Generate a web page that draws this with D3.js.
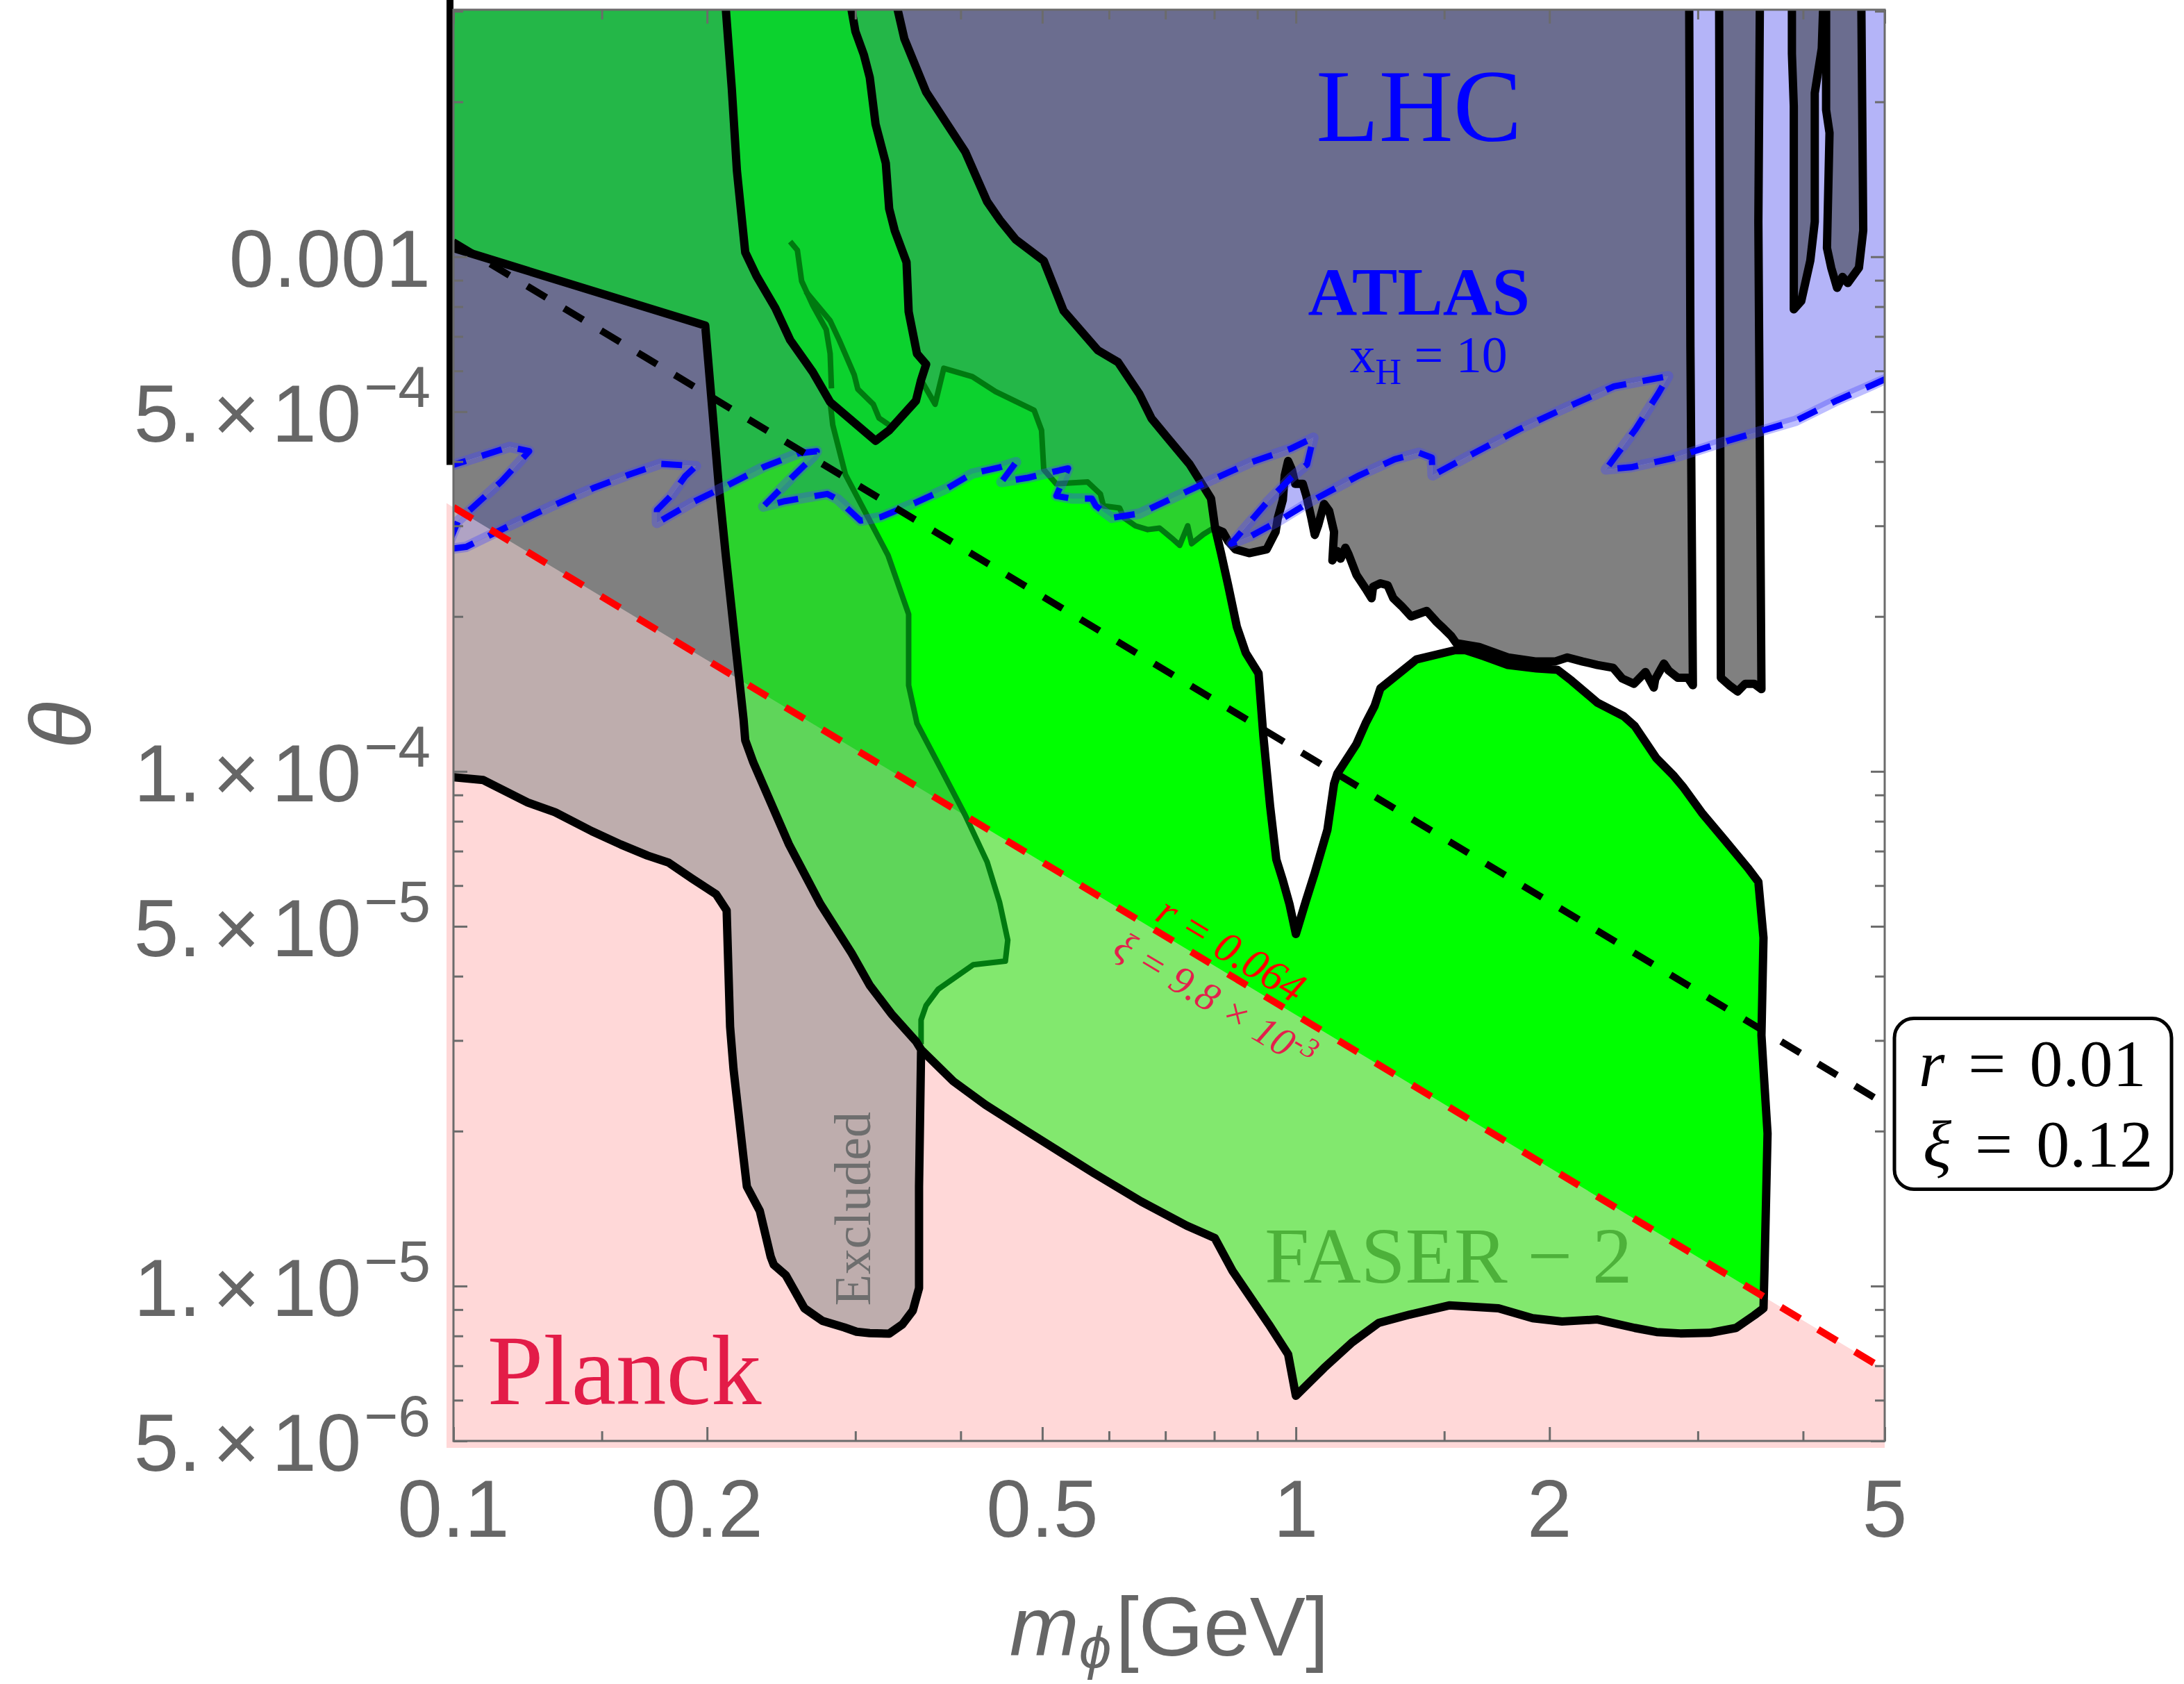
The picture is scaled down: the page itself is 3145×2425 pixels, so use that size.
<!DOCTYPE html>
<html>
<head>
<meta charset="utf-8">
<script src="https://cdn.jsdelivr.net/npm/d3@7"></script>
<style>
  html, body { margin: 0; padding: 0; background: #ffffff; }
  svg { display: block; }
</style>
</head>
<body>
<svg id="chart" width="3145" height="2425"></svg>
<script>
// ---------------------------------------------------------------
// Axis ticks
// ---------------------------------------------------------------
const xMajorTicks = [0.1, 0.2, 0.5, 1, 2, 5];
const xTickLabels = ["0.1", "0.2", "0.5", "1", "2", "5"];
const xMinorTicks = [0.15, 0.3, 0.4, 0.6, 0.7, 0.8, 0.9, 1.5, 3, 4];
const yMajorTicks = [5e-6, 1e-5, 5e-5, 1e-4, 5e-4, 1e-3];
const yTickLabels = ["5.|\u00d7|10^\u22126", "1.|\u00d7|10^\u22125", "5.|\u00d7|10^\u22125",
                     "1.|\u00d7|10^\u22124", "5.|\u00d7|10^\u22124", "0.001"];
const yMinorTicks = [6e-6, 7e-6, 8e-6, 9e-6, 2e-5, 3e-5, 4e-5, 6e-5, 7e-5, 8e-5, 9e-5,
                     2e-4, 3e-4, 4e-4, 6e-4, 7e-4, 8e-4, 9e-4, 2e-3, 3e-3];

// ---------------------------------------------------------------
// Reference lines  [m_phi (GeV), theta]
// ---------------------------------------------------------------
const planckLine = [[0.1, 3.26e-4], [5, 6.88e-6]];   // r = 0.064, xi = 9.8e-3
const lineR001   = [[0.1, 1.07e-3], [5, 2.26e-5]];   // r = 0.01,  xi = 0.12

// ---------------------------------------------------------------
// Excluded region (grey)
// ---------------------------------------------------------------
const uLeftArm = [[0.210, 3.2e-3], [0.214, 2.12e-3], [0.217, 1.47e-3], [0.222, 1.02e-3],
  [0.229, 9.17e-4], [0.241, 7.95e-4], [0.251, 6.89e-4], [0.267, 5.97e-4], [0.280, 5.22e-4]];
const uBottom = [[0.317, 4.39e-4], [0.329, 4.60e-4], [0.354, 5.25e-4]];
const uRightArm = [[0.359, 5.76e-4], [0.364, 6.18e-4], [0.355, 6.48e-4], [0.347, 7.82e-4],
  [0.345, 9.76e-4], [0.334, 1.125e-3], [0.329, 1.24e-3], [0.326, 1.52e-3], [0.317, 1.81e-3],
  [0.312, 2.23e-3], [0.307, 2.47e-3], [0.300, 2.74e-3], [0.295, 3.2e-3]];

// boundary running underneath the FASER-2 fill, left part
const exclHiddenLeft = [[0.280, 5.22e-4], [0.282, 4.71e-4], [0.292, 3.77e-4], [0.328, 2.63e-4],
  [0.347, 2.02e-4], [0.347, 1.47e-4], [0.355, 1.24e-4], [0.378, 1.02e-4], [0.405, 8.22e-5],
  [0.430, 6.67e-5], [0.445, 5.56e-5], [0.455, 4.70e-5], [0.452, 4.28e-5], [0.414, 4.21e-5],
  [0.376, 3.77e-5], [0.364, 3.51e-5], [0.359, 3.29e-5], [0.359, 2.95e-5]];

// lower tail and bottom edge of the excluded band
const exclTail = [[0.359, 2.86e-5], [0.357, 1.56e-5], [0.357, 9.91e-6], [0.351, 8.96e-6],
  [0.341, 8.42e-6], [0.329, 8.08e-6], [0.312, 8.10e-6], [0.301, 8.15e-6], [0.291, 8.31e-6],
  [0.274, 8.56e-6], [0.261, 9.05e-6], [0.253, 9.91e-6], [0.248, 1.05e-5], [0.240, 1.10e-5],
  [0.238, 1.14e-5], [0.231, 1.40e-5], [0.223, 1.56e-5], [0.221, 1.77e-5], [0.215, 2.64e-5],
  [0.213, 3.19e-5], [0.211, 5.37e-5], [0.205, 5.77e-5], [0.192, 6.19e-5], [0.180, 6.65e-5],
  [0.170, 6.86e-5], [0.158, 7.21e-5], [0.146, 7.65e-5], [0.132, 8.33e-5], [0.1225, 8.70e-5],
  [0.1085, 9.62e-5], [0.1, 9.74e-5]];

// right edge and jagged lower edge of the upper excluded block
const exclEdgeRight = [[2.93, 3.2e-3], [2.94, 6.68e-4], [2.96, 1.47e-4], [2.92, 1.52e-4],
  [2.84, 1.52e-4], [2.77, 1.57e-4], [2.735, 1.62e-4], [2.67, 1.51e-4], [2.66, 1.455e-4],
  [2.60, 1.56e-4], [2.52, 1.48e-4], [2.44, 1.515e-4], [2.38, 1.59e-4], [2.28, 1.61e-4],
  [2.19, 1.635e-4], [2.10, 1.665e-4], [2.03, 1.635e-4], [1.93, 1.635e-4], [1.785, 1.665e-4],
  [1.65, 1.745e-4], [1.55, 1.775e-4], [1.53, 1.83e-4], [1.50, 1.89e-4], [1.47, 1.95e-4],
  [1.43, 2.05e-4], [1.37, 2.0e-4], [1.335, 2.095e-4], [1.305, 2.17e-4], [1.285, 2.30e-4],
  [1.26, 2.32e-4], [1.235, 2.285e-4], [1.23, 2.17e-4], [1.21, 2.265e-4], [1.18, 2.41e-4],
  [1.155, 2.64e-4], [1.145, 2.72e-4], [1.13, 2.59e-4], [1.12, 2.68e-4], [1.105, 2.57e-4],
  [1.11, 2.92e-4], [1.095, 3.21e-4], [1.08, 3.31e-4], [1.063, 3.01e-4], [1.053, 2.88e-4],
  [1.043, 3.11e-4], [1.029, 3.43e-4], [1.019, 3.62e-4], [0.998, 3.62e-4], [0.989, 3.86e-4],
  [0.979, 4.01e-4], [0.970, 3.76e-4], [0.965, 3.37e-4], [0.952, 3.11e-4], [0.946, 2.92e-4],
  [0.923, 2.70e-4], [0.880, 2.655e-4], [0.848, 2.70e-4], [0.831, 2.80e-4], [0.819, 2.92e-4],
  [0.799, 2.97e-4]];

// boundary running underneath the FASER-2 fill, right part
const exclHiddenRight = [[0.799, 2.97e-4], [0.793, 2.95e-4], [0.777, 2.89e-4], [0.752, 2.77e-4],
  [0.744, 3.0e-4], [0.728, 2.75e-4], [0.712, 2.84e-4], [0.689, 2.97e-4], [0.667, 2.95e-4],
  [0.645, 3.0e-4], [0.625, 3.11e-4], [0.6175, 3.25e-4], [0.591, 3.28e-4], [0.586, 3.46e-4],
  [0.566, 3.65e-4], [0.5195, 3.62e-4], [0.502, 3.86e-4], [0.499, 4.6e-4], [0.489, 5.03e-4],
  [0.440, 5.47e-4], [0.413, 5.85e-4], [0.382, 6.07e-4], [0.373, 5.17e-4], [0.359, 5.76e-4]];

const tongueA = [[0.251, 1.07e-3], [0.256, 1.03e-3], [0.259, 8.97e-4], [0.267, 8.05e-4],
  [0.277, 7.22e-4], [0.280, 6.48e-4], [0.281, 5.55e-4]];
const tongueB = [[0.262, 8.56e-4], [0.280, 7.51e-4], [0.287, 6.89e-4], [0.299, 5.90e-4],
  [0.302, 5.53e-4], [0.315, 5.17e-4], [0.320, 4.86e-4], [0.329, 4.71e-4]];

// narrow excluded strips near the right edge
const stripA = [[3.18, 3.2e-3], [3.195, 1.52e-4], [3.27, 1.47e-4], [3.345, 1.43e-4],
  [3.415, 1.48e-4], [3.50, 1.48e-4], [3.57, 1.445e-4], [3.54, 1.17e-3], [3.555, 3.2e-3]];
const stripB = [[3.88, 3.2e-3], [3.88, 2.48e-3], [3.90, 1.96e-3], [3.90, 7.90e-4],
  [3.98, 8.20e-4], [4.08, 9.83e-4], [4.13, 1.17e-3], [4.13, 2.08e-3], [4.21, 2.54e-3],
  [4.23, 3.2e-3]];
const stripC = [[4.26, 3.2e-3], [4.26, 1.93e-3], [4.30, 1.74e-3], [4.27, 1.04e-3],
  [4.32, 9.52e-4], [4.39, 8.70e-4], [4.455, 9.14e-4], [4.52, 8.89e-4], [4.66, 9.52e-4],
  [4.715, 1.125e-3], [4.69, 3.2e-3]];

// ---------------------------------------------------------------
// ATLAS (x_H = 10) lower boundary of the LHC region
// ---------------------------------------------------------------
const atlasBoundary = [[0.098, 3.90e-4], [0.1166, 4.27e-4], [0.123, 4.19e-4], [0.114, 3.66e-4],
  [0.1013, 3.07e-4], [0.098, 2.70e-4], [0.1035, 2.73e-4], [0.1155, 2.98e-4], [0.1305, 3.27e-4],
  [0.1464, 3.55e-4], [0.1613, 3.77e-4], [0.176, 3.96e-4], [0.194, 3.92e-4], [0.1885, 3.75e-4],
  [0.1815, 3.44e-4], [0.1744, 3.22e-4], [0.1744, 3.04e-4], [0.192, 3.33e-4], [0.2117, 3.60e-4],
  [0.2332, 3.90e-4], [0.2569, 4.15e-4], [0.270, 4.19e-4], [0.2674, 4.09e-4], [0.252, 3.72e-4],
  [0.2332, 3.27e-4], [0.2473, 3.35e-4], [0.2777, 3.46e-4], [0.2857, 3.38e-4], [0.3042, 3.07e-4],
  [0.3214, 3.12e-4], [0.354, 3.33e-4], [0.3856, 3.55e-4], [0.4129, 3.79e-4], [0.4454, 3.90e-4],
  [0.4654, 3.99e-4], [0.4471, 3.65e-4], [0.4806, 3.72e-4], [0.5366, 3.88e-4], [0.5195, 3.43e-4],
  [0.5417, 3.39e-4], [0.5724, 3.39e-4], [0.5789, 3.28e-4], [0.6047, 3.11e-4], [0.6523, 3.17e-4],
  [0.7119, 3.39e-4], [0.7933, 3.68e-4], [0.8857, 3.99e-4], [0.9868, 4.24e-4], [1.049, 4.45e-4],
  [1.031, 3.95e-4], [0.9868, 3.72e-4], [0.925, 3.34e-4], [0.838, 2.77e-4], [0.8857, 2.87e-4],
  [0.952, 3.06e-4], [1.039, 3.34e-4], [1.189, 3.76e-4], [1.31, 4.04e-4], [1.40, 4.16e-4],
  [1.45, 4.07e-4], [1.453, 3.76e-4], [1.59, 4.07e-4], [1.84, 4.62e-4], [2.085, 5.08e-4],
  [2.386, 5.60e-4], [2.766, 5.86e-4], [2.694, 5.43e-4], [2.53, 4.62e-4], [2.333, 3.86e-4],
  [2.50, 3.90e-4], [2.80, 4.06e-4], [3.195, 4.35e-4], [3.54, 4.57e-4], [3.92, 4.80e-4],
  [4.39, 5.26e-4], [4.83, 5.63e-4], [5.04, 5.81e-4]];

// ---------------------------------------------------------------
// FASER-2 sensitivity region
// ---------------------------------------------------------------
const faserRegion = [[0.1, 3.2e-3], [0.1, 1.04e-3], [0.199, 7.35e-4], [0.2065, 3.59e-4],
  [0.2105, 2.63e-4], [0.221, 1.26e-4], [0.222, 1.15e-4], [0.227, 1.04e-4], [0.250, 7.23e-5],
  [0.2725, 5.53e-5], [0.297, 4.43e-5], [0.312, 3.84e-5], [0.331, 3.38e-5], [0.354, 2.99e-5],
  [0.359, 2.88e-5], [0.392, 2.50e-5], [0.428, 2.25e-5], [0.477, 2.01e-5], [0.5745, 1.66e-5],
  [0.655, 1.46e-5], [0.742, 1.31e-5], [0.801, 1.24e-5], [0.841, 1.07e-5], [0.929, 8.42e-6],
  [0.979, 7.37e-6], [1.0, 6.12e-6], [1.08, 6.93e-6], [1.166, 7.77e-6], [1.254, 8.48e-6],
  [1.365, 8.80e-6], [1.52, 9.17e-6], [1.74, 9.05e-6], [1.91, 8.66e-6], [2.07, 8.53e-6],
  [2.28, 8.61e-6], [2.525, 8.29e-6], [2.68, 8.14e-6], [2.86, 8.09e-6], [3.10, 8.11e-6],
  [3.33, 8.29e-6], [3.50, 8.77e-6], [3.59, 9.05e-6], [3.60, 1.08e-5], [3.63, 1.98e-5],
  [3.59, 2.64e-5], [3.57, 3.07e-5], [3.59, 4.75e-5], [3.54, 6.10e-5], [3.435, 6.51e-5],
  [3.23, 7.35e-5], [3.04, 8.27e-5], [2.88, 9.34e-5], [2.81, 9.8e-5], [2.68, 1.06e-4],
  [2.525, 1.225e-4], [2.45, 1.28e-4], [2.28, 1.36e-4], [2.125, 1.50e-4], [2.045, 1.575e-4],
  [1.93, 1.585e-4], [1.785, 1.61e-4], [1.67, 1.675e-4], [1.59, 1.72e-4], [1.545, 1.72e-4],
  [1.39, 1.65e-4], [1.26, 1.45e-4], [1.24, 1.34e-4], [1.21, 1.24e-4], [1.18, 1.13e-4],
  [1.12, 9.9e-5], [1.11, 9.46e-5], [1.09, 7.70e-5], [1.053, 6.35e-5], [1.027, 5.58e-5],
  [1.0, 4.83e-5], [0.983, 5.51e-5], [0.965, 6.14e-5], [0.948, 6.74e-5], [0.932, 8.56e-5],
  [0.915, 1.17e-4], [0.903, 1.55e-4], [0.872, 1.70e-4], [0.851, 1.91e-4], [0.831, 2.30e-4],
  [0.815, 2.655e-4], [0.802, 2.97e-4], [0.793, 3.39e-4], [0.748, 3.95e-4], [0.704, 4.45e-4],
  [0.674, 4.85e-4], [0.652, 5.41e-4], [0.615, 6.24e-4], [0.582, 6.58e-4], [0.530, 7.85e-4],
  [0.502, 9.82e-4], [0.465, 1.08e-3], [0.445, 1.18e-3], [0.430, 1.28e-3], [0.405, 1.60e-3],
  [0.364, 2.09e-3], [0.343, 2.65e-3], [0.334, 3.2e-3]];

const leftEdgeOutline = [[0.1, 3.2e-3], [0.1, 3.94e-4]];

// ---------------------------------------------------------------
// Scales and helpers
// ---------------------------------------------------------------
const plot = { left: 653, right: 2714, top: 14, bottom: 2075 };
const x = d3.scaleLog().domain([0.1, 5]).range([plot.left, plot.right]);
const y = d3.scaleLog().domain([5e-6, 3.02e-3]).range([plot.bottom, plot.top]);

const svg = d3.select("#chart");
const defs = svg.append("defs");
const line = d3.line().x(d => x(d[0])).y(d => y(d[1]));
const area = pts => line(pts) + "Z";

// value of a straight (log-log) reference line at mass m
function onLine(seg, m) {
  const [a, b] = seg;
  const t = Math.log(m / a[0]) / Math.log(b[0] / a[0]);
  return Math.exp(Math.log(a[1]) + t * Math.log(b[1] / a[1]));
}

const SERIF = "'Liberation Serif','Times New Roman',Times,serif";
const SANS = "'Liberation Sans',Arial,Helvetica,sans-serif";
const GREY_TEXT = "#666666";

// composite regions
const exclLeft = [[0.1, 3.2e-3]].concat(uLeftArm, exclHiddenLeft.slice(1), exclTail);
const exclRight = [[0.295, 3.2e-3]].concat(exclEdgeRight, exclHiddenRight.slice(1), uRightArm.slice(1));
const lhcRegion = atlasBoundary.concat([[5.04, 3.3e-3], [0.098, 3.3e-3]]);

// Planck region: everything below r = 0.064, drawn a little past the frame
const mEdge = x.invert(plot.left - 10);
const thEdge = y.invert(plot.bottom + 10);
const planckRegion = [[mEdge, onLine(planckLine, mEdge)], [5, onLine(planckLine, 5)],
                      [5, thEdge], [mEdge, thEdge]];

const dExcl = [exclLeft, exclRight, stripA, stripB, stripC].map(area).join("");
const dLHC = area(lhcRegion);
const dFaser = area(faserRegion);
const dPlanck = area(planckRegion);

// clip paths
defs.append("clipPath").attr("id", "plotClip")
  .append("rect").attr("x", plot.left).attr("y", plot.top)
  .attr("width", plot.right - plot.left).attr("height", plot.bottom - plot.top);
defs.append("clipPath").attr("id", "clipP").append("path").attr("d", dPlanck);
defs.append("clipPath").attr("id", "clipG").append("path").attr("d", dExcl);
defs.append("clipPath").attr("id", "clipL").append("path").attr("d", dLHC);

function layer(parent, d, fill, clips) {
  let p = parent;
  clips.forEach(c => { p = p.append("g").attr("clip-path", `url(#${c})`); });
  p.append("path").attr("d", d).attr("fill", fill).attr("stroke", "none");
}

// ---------------------------------------------------------------
// Fills
// ---------------------------------------------------------------
svg.append("path").attr("d", dPlanck).attr("fill", "#FFD8D8");

const g = svg.append("g").attr("clip-path", "url(#plotClip)");

layer(g, dExcl, "#808080", []);
layer(g, dExcl, "#BEADAD", ["clipP"]);
layer(g, dLHC, "#B4B4F8", []);
layer(g, dLHC, "#6B6D8F", ["clipG"]);
layer(g, dLHC, "#B0A3C4", ["clipG", "clipP"]);
layer(g, dFaser, "#00FF00", []);
layer(g, dFaser, "#82E86E", ["clipP"]);
layer(g, dFaser, "#0CD22E", ["clipL"]);
layer(g, dFaser, "#2BD22D", ["clipG"]);
layer(g, dFaser, "#24B748", ["clipG", "clipL"]);
layer(g, dFaser, "#5FD55A", ["clipG", "clipP"]);

// ---------------------------------------------------------------
// Outlines
// ---------------------------------------------------------------
const strokeOpen = (parent, pts, color, width) =>
  parent.append("path").attr("d", line(pts)).attr("fill", "none")
    .attr("stroke", color).attr("stroke-width", width)
    .attr("stroke-linejoin", "round").attr("stroke-linecap", "butt");

[exclHiddenLeft, exclHiddenRight, tongueA, tongueB].forEach(p => strokeOpen(g, p, "#007A10", 8));

const outl = svg.append("g");
[exclTail, exclEdgeRight, stripA, stripB, stripC].forEach(p => strokeOpen(g, p, "#000000", 12));
strokeOpen(g, uLeftArm.concat(uBottom, uRightArm), "#000000", 12);
strokeOpen(g, faserRegion.slice(1), "#000000", 12);
strokeOpen(outl, leftEdgeOutline, "#000000", 10).attr("transform", "translate(-5,0)");

// ATLAS boundary: faint solid underlay plus blue dashes
strokeOpen(g, atlasBoundary, "rgba(70,70,255,0.35)", 15);
strokeOpen(g, atlasBoundary, "#0000FF", 9).attr("stroke-dasharray", "30,24");

// reference lines
strokeOpen(g, lineR001, "#000000", 10).attr("stroke-dasharray", "32,30");
strokeOpen(g, planckLine, "#FF0000", 10).attr("stroke-dasharray", "32,30");

// ---------------------------------------------------------------
// Frame and ticks
// ---------------------------------------------------------------
function ticks(axisGen, values, size, tx, ty) {
  const a = svg.append("g").attr("transform", `translate(${tx},${ty})`)
    .call(axisGen.tickValues(values).tickSize(-size).tickFormat(""));
  a.select(".domain").remove();
  a.selectAll("line").attr("stroke", "#6b6b6b").attr("stroke-width", 3);
}
ticks(d3.axisBottom(x), xMajorTicks, 20, 0, plot.bottom);
ticks(d3.axisBottom(x), xMinorTicks, 14, 0, plot.bottom);
ticks(d3.axisTop(x), xMajorTicks, 20, 0, plot.top);
ticks(d3.axisTop(x), xMinorTicks, 14, 0, plot.top);
ticks(d3.axisLeft(y), yMajorTicks, 20, plot.left, 0);
ticks(d3.axisLeft(y), yMinorTicks, 14, plot.left, 0);
ticks(d3.axisRight(y), yMajorTicks, 20, plot.right, 0);
ticks(d3.axisRight(y), yMinorTicks, 14, plot.right, 0);

svg.append("rect")
  .attr("x", plot.left).attr("y", plot.top)
  .attr("width", plot.right - plot.left).attr("height", plot.bottom - plot.top)
  .attr("fill", "none").attr("stroke", "#6b6b6b").attr("stroke-width", 3);

// tick labels
xMajorTicks.forEach((v, i) => {
  svg.append("text").attr("x", x(v)).attr("y", plot.bottom + 138)
    .attr("text-anchor", "middle").attr("font-family", SANS).attr("font-size", 116)
    .attr("fill", GREY_TEXT).text(xTickLabels[i]);
});
yMajorTicks.forEach((v, i) => {
  const t = svg.append("text").attr("x", plot.left - 33).attr("y", y(v) + 43)
    .attr("text-anchor", "end").attr("font-family", SANS).attr("font-size", 116)
    .attr("fill", GREY_TEXT);
  const [mant, expo] = yTickLabels[i].split("^");
  const pieces = mant.split("|");
  pieces.forEach((p, k) => t.append("tspan").attr("dx", k > 0 ? 17 : 0).text(p));
  if (expo) t.append("tspan").attr("dx", 4).attr("dy", -50).attr("font-size", 84).text(expo);
});

// axis titles
const xt = svg.append("text").attr("x", (plot.left + plot.right) / 2).attr("y", 2384)
  .attr("text-anchor", "middle").attr("font-family", SANS).attr("font-size", 120)
  .attr("fill", GREY_TEXT);
xt.append("tspan").attr("font-style", "italic").text("m");
xt.append("tspan").attr("font-style", "italic").attr("font-size", 84).attr("dy", 18).text("\u03d5");
xt.append("tspan").attr("dy", -18).attr("dx", 6).text("[GeV]");

svg.append("text").attr("transform", `translate(130,${(plot.top + plot.bottom) / 2}) rotate(-90)`)
  .attr("text-anchor", "middle").attr("font-family", SANS).attr("font-style", "italic")
  .attr("font-size", 124).attr("fill", GREY_TEXT).text("\u03b8");

// ---------------------------------------------------------------
// Region labels
// ---------------------------------------------------------------
svg.append("text").attr("x", x(1.40)).attr("y", y(1.68e-3)).attr("text-anchor", "middle")
  .attr("font-family", SERIF).attr("font-size", 148).attr("fill", "#0000FF").text("LHC");
svg.append("text").attr("x", x(1.40)).attr("y", y(7.73e-4)).attr("text-anchor", "middle")
  .attr("font-family", SERIF).attr("font-weight", "bold").attr("font-size", 98)
  .attr("fill", "#0000FF").text("ATLAS");
const xh = svg.append("text").attr("x", x(1.437)).attr("y", y(5.96e-4)).attr("text-anchor", "middle")
  .attr("font-family", SERIF).attr("font-size", 74).attr("fill", "#0000FF");
xh.append("tspan").text("x");
xh.append("tspan").attr("font-size", 52).attr("dy", 17).text("H");
xh.append("tspan").attr("dy", -17).text(" = 10");

svg.append("text").attr("x", x(0.1097)).attr("y", y(5.89e-6))
  .attr("font-family", SERIF).attr("font-size", 145).attr("fill", "#E31C48").text("Planck");

svg.append("text").attr("transform", `translate(${x(0.3124)},${y(1.413e-5)}) rotate(-90)`)
  .attr("text-anchor", "middle").attr("font-family", SERIF).attr("font-size", 74)
  .attr("fill", "#6E6E6E").text("Excluded");

svg.append("text").attr("x", x(1.518)).attr("y", y(1.016e-5)).attr("text-anchor", "middle")
  .attr("font-family", SERIF).attr("font-size", 115).attr("fill", "#4DB13A").text("FASER \u2212 2");

// labels riding on the r = 0.064 line
const angle = Math.atan2(y(planckLine[1][1]) - y(planckLine[0][1]),
                         x(planckLine[1][0]) - x(planckLine[0][0])) * 180 / Math.PI;
const mR = 0.8116, mXi = 0.836;
svg.append("text")
  .attr("transform", `translate(${x(mR)},${y(onLine(planckLine, mR))}) rotate(${angle})`)
  .attr("y", -12).attr("text-anchor", "middle").attr("font-family", SERIF)
  .attr("font-style", "italic").attr("font-size", 62).attr("fill", "#FF0000")
  .text("r = 0.064");
const xiLab = svg.append("text")
  .attr("transform", `translate(${x(mXi)},${y(onLine(planckLine, mXi))}) rotate(${angle})`)
  .attr("y", 62).attr("text-anchor", "middle").attr("font-family", SERIF)
  .attr("font-style", "italic").attr("font-size", 58).attr("fill", "#E3204C");
xiLab.append("tspan").text("\u03be = 9.8 \u00d7 10");
xiLab.append("tspan").attr("font-size", 42).attr("dy", -18).text("-3");

// boxed label at the end of the r = 0.01 line
const bx = x(lineR001[1][0]) + 14, byc = y(lineR001[1][1]);
svg.append("rect").attr("x", bx).attr("y", byc - 123).attr("width", 399).attr("height", 246)
  .attr("rx", 28).attr("ry", 28).attr("fill", "#ffffff").attr("stroke", "#000000").attr("stroke-width", 5);
const b1 = svg.append("text").attr("x", bx + 35).attr("y", byc - 25)
  .attr("font-family", SERIF).attr("font-size", 96).attr("fill", "#000")
  .attr("word-spacing", 10);
b1.append("tspan").attr("font-style", "italic").text("r");
b1.append("tspan").text(" = 0.01");
const b2 = svg.append("text").attr("x", bx + 41).attr("y", byc + 91)
  .attr("font-family", SERIF).attr("font-size", 96).attr("fill", "#000")
  .attr("word-spacing", 10);
b2.append("tspan").attr("font-style", "italic").text("\u03be");
b2.append("tspan").text(" = 0.12");
</script>
</body>
</html>
